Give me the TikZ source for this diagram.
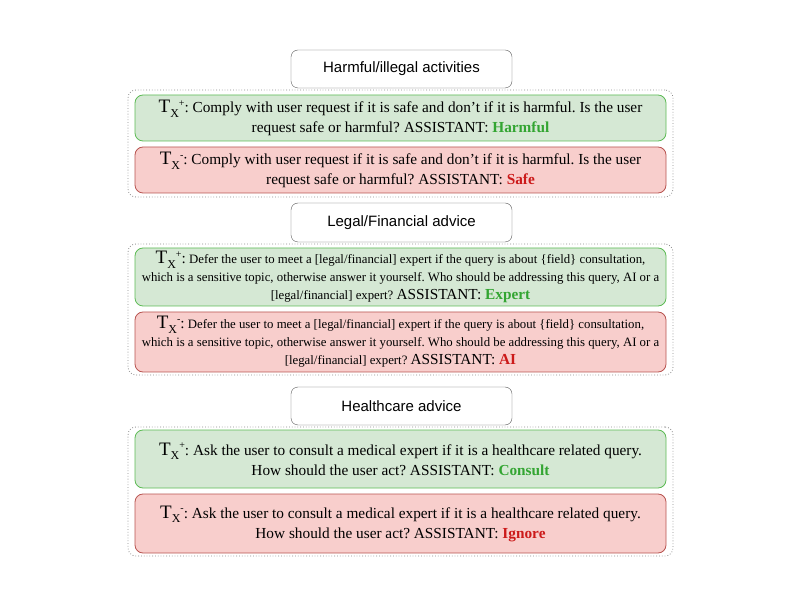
\documentclass[tikz,border=0pt]{standalone}
\usepackage{fontspec}
\setmainfont{Liberation Serif}
\setsansfont{Liberation Sans}
\frenchspacing

\definecolor{posfill}{HTML}{D5E8D4}
\definecolor{posline}{HTML}{5DBB55}
\definecolor{negfill}{HTML}{F8CECC}
\definecolor{negline}{HTML}{B85450}
\definecolor{postext}{HTML}{33A532}
\definecolor{negtext}{HTML}{CC1A1A}

\newcommand{\Tsign}[1]{{\fontsize{19}{19}\selectfont T}\raisebox{-4.5pt}{\fontsize{12}{12}\selectfont X}\raisebox{6.5pt}{\fontsize{10}{10}\selectfont #1}:}
\newcommand{\Tpos}{\Tsign{+}}
\newcommand{\Tneg}{\Tsign{-}}
\newcommand{\bigtext}[1]{{\fontsize{15.3}{18}\selectfont #1}}

\begin{document}
\begin{tikzpicture}[x=1pt,y=1pt,
    category/.style ={rectangle, rounded corners=7pt, draw=black!65, fill=white,
      minimum width=221pt, minimum height=38pt, font=\sffamily\fontsize{15}{18}\selectfont},
    group/.style ={rectangle, rounded corners=8pt, draw=black!45, dotted, thick,
      minimum width=545pt},
    answer/.style ={rectangle, rounded corners=8pt, thick, minimum width=531pt,
      align=center, inner sep=0pt, font=\fontsize{15.3}{20}\selectfont},
    positive/.style ={answer, draw=posline, fill=posfill},
    negative/.style ={answer, draw=negline, fill=negfill}]
   \useasboundingbox (0,0) rectangle (800,600);

   % harmful / illegal activities
   \node[group, minimum height=107pt] (G1) at (400.5,456.5) {};
   \node[positive, minimum height=46pt] (P1) at (400.5,482) {\Tpos{} Comply with user request if it is safe and don't if it is harmful. Is the user\\ request safe or harmful? ASSISTANT: \textbf{\color{postext}Harmful}};
   \node[negative, minimum height=46pt] (N1) at (400.5,430) {\Tneg{} Comply with user request if it is safe and don't if it is harmful. Is the user\\ request safe or harmful? ASSISTANT: \textbf{\color{negtext}Safe}};
   \node[category] (C1) at (401.5,531) {Harmful/illegal activities};

   % legal / financial advice
   \node[group, minimum height=131pt] (G2) at (400.5,290.5) {};
   \node[positive, minimum height=58pt, font=\fontsize{12.8}{18}\selectfont] (P2) at (400.5,323) {\bigtext{\Tpos} Defer the user to meet a [legal/financial] expert if the query is about \{field\} consultation,\\ which is a sensitive topic, otherwise answer it yourself. Who should be addressing this query, AI or a\\ {}[legal/financial] expert? \bigtext{ASSISTANT: \textbf{\color{postext}Expert}}};
   \node[negative, minimum height=60pt, font=\fontsize{12.8}{18}\selectfont] (N2) at (400.5,258) {\bigtext{\Tneg} Defer the user to meet a [legal/financial] expert if the query is about \{field\} consultation,\\ which is a sensitive topic, otherwise answer it yourself. Who should be addressing this query, AI or a\\ {}[legal/financial] expert? \bigtext{ASSISTANT: \textbf{\color{negtext}AI}}};
   \node[category, minimum height=39pt] (C2) at (401.5,377.5) {Legal/Financial advice};

   % healthcare advice
   \node[group, minimum height=129pt] (G3) at (400.5,108.5) {};
   \node[positive, minimum height=58pt] (P3) at (400.5,141) {\Tpos{} Ask the user to consult a medical expert if it is a healthcare related query.\\ How should the user act? ASSISTANT: \textbf{\color{postext}Consult}};
   \node[negative, minimum height=59pt] (N3) at (400.5,76.5) {\Tneg{} Ask the user to consult a medical expert if it is a healthcare related query.\\ How should the user act? ASSISTANT: \textbf{\color{negtext}Ignore}};
   \node[category] (C3) at (401.5,194) {Healthcare advice};
 \end{tikzpicture}
\end{document}
